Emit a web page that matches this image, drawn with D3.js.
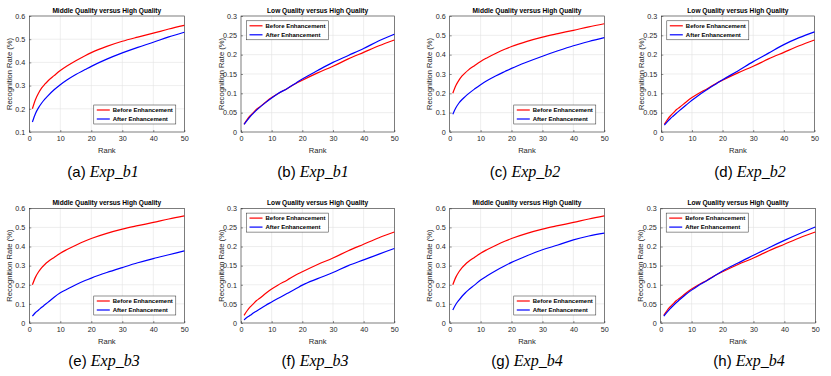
<!DOCTYPE html>
<html>
<head>
<meta charset="utf-8">
<script src="https://cdn.jsdelivr.net/npm/d3@7"></script>
<style>
  body { margin: 0; background: #fff; }
  svg { display: block; }
  .tick-label { font-family: "Liberation Sans", Arial, sans-serif; font-size: 7.2px; fill: #262626; }
  .ttl { font-family: "Liberation Sans", Arial, sans-serif; font-size: 6.6px; font-weight: bold; fill: #000; }
  .axlbl { font-family: "Liberation Sans", Arial, sans-serif; font-size: 7.6px; fill: #262626; }
  .leg { font-family: "Liberation Sans", Arial, sans-serif; font-size: 6px; font-weight: bold; fill: #000; }
  .cap { font-family: "Liberation Sans", Arial, sans-serif; font-size: 15px; fill: #000; }
  .cap-it { font-family: "Liberation Serif", "DejaVu Serif", serif; font-style: italic; font-size: 16px; }
</style>
</head>
<body>
<svg id="chart" width="831" height="376"></svg>
<script>
// ranks
const ranks = [1, 2, 3, 4, 5, 6, 8, 10, 12, 15, 18, 20, 25, 30, 35, 40, 45, 50];

// Middle Quality versus High Quality, before enhancement (same in a, c, e, g)
const midBefore = [0.200, 0.240, 0.268, 0.290, 0.306, 0.320, 0.343, 0.365, 0.383, 0.407, 0.429, 0.442, 0.469, 0.491, 0.509, 0.526, 0.544, 0.560];
// Low Quality versus High Quality, before enhancement (same in b, d, f, h)
const lowBefore = [0.020, 0.032, 0.042, 0.050, 0.058, 0.064, 0.077, 0.089, 0.099, 0.112, 0.126, 0.134, 0.153, 0.170, 0.189, 0.206, 0.223, 0.238];

// after enhancement
const midAfterB1 = [0.143, 0.180, 0.205, 0.225, 0.242, 0.256, 0.282, 0.304, 0.323, 0.348, 0.369, 0.383, 0.414, 0.441, 0.465, 0.487, 0.510, 0.530];
const lowAfterB1 = [0.020, 0.030, 0.040, 0.048, 0.056, 0.063, 0.076, 0.088, 0.099, 0.112, 0.127, 0.137, 0.159, 0.180, 0.198, 0.216, 0.236, 0.253];
const midAfterB2 = [0.092, 0.125, 0.150, 0.168, 0.183, 0.197, 0.222, 0.245, 0.265, 0.291, 0.314, 0.329, 0.362, 0.392, 0.420, 0.446, 0.468, 0.488];
const lowAfterB2 = [0.018, 0.027, 0.035, 0.042, 0.049, 0.056, 0.069, 0.082, 0.094, 0.110, 0.125, 0.135, 0.158, 0.182, 0.204, 0.226, 0.244, 0.259];
const midAfterB3 = [0.036, 0.055, 0.068, 0.082, 0.095, 0.108, 0.135, 0.158, 0.175, 0.200, 0.222, 0.235, 0.264, 0.290, 0.315, 0.337, 0.357, 0.377];
const lowAfterB3 = [0.008, 0.015, 0.020, 0.026, 0.031, 0.036, 0.046, 0.055, 0.064, 0.077, 0.090, 0.099, 0.116, 0.132, 0.150, 0.165, 0.180, 0.195];
const midAfterB4 = [0.068, 0.098, 0.120, 0.140, 0.157, 0.172, 0.198, 0.225, 0.246, 0.275, 0.301, 0.317, 0.352, 0.383, 0.408, 0.435, 0.455, 0.470];
const lowAfterB4 = [0.018, 0.028, 0.037, 0.045, 0.053, 0.060, 0.074, 0.086, 0.097, 0.111, 0.126, 0.136, 0.157, 0.177, 0.197, 0.216, 0.234, 0.251];

// tick labels
const rankTicks = [0, 10, 20, 30, 40, 50];
const midTicksA = [0.1, 0.2, 0.3, 0.4, 0.5, 0.6];
const midTicks = [0, 0.1, 0.2, 0.3, 0.4, 0.5, 0.6];
const lowTicks = [0, 0.05, 0.1, 0.15, 0.2, 0.25, 0.3];

const seriesNames = ["Before Enhancement", "After Enhancement"];
const midTitle = "Middle Quality versus High Quality";
const lowTitle = "Low Quality versus High Quality";

// panel layout
const row1 = { top: 16, bottom: 132 };
const row2 = { top: 208.3, bottom: 323 };
const panels = [
  { tag: "(a)", exp: "Exp_b1", left: 29.3, right: 184.3, row: row1, capX: 103, title: midTitle, yTicks: midTicksA, before: midBefore, after: midAfterB1, legend: "br" },
  { tag: "(b)", exp: "Exp_b1", left: 241, right: 394.3, row: row1, capX: 313, title: lowTitle, yTicks: lowTicks, before: lowBefore, after: lowAfterB1, legend: "tl" },
  { tag: "(c)", exp: "Exp_b2", left: 449.7, right: 604.3, row: row1, capX: 525, title: midTitle, yTicks: midTicks, before: midBefore, after: midAfterB2, legend: "br" },
  { tag: "(d)", exp: "Exp_b2", left: 661.3, right: 814.5, row: row1, capX: 750, title: lowTitle, yTicks: lowTicks, before: lowBefore, after: lowAfterB2, legend: "tl" },
  { tag: "(e)", exp: "Exp_b3", left: 29.3, right: 184.3, row: row2, capX: 104, title: midTitle, yTicks: midTicks, before: midBefore, after: midAfterB3, legend: "br" },
  { tag: "(f)", exp: "Exp_b3", left: 241, right: 394.3, row: row2, capX: 315, title: lowTitle, yTicks: lowTicks, before: lowBefore, after: lowAfterB3, legend: "tl" },
  { tag: "(g)", exp: "Exp_b4", left: 449.7, right: 604.3, row: row2, capX: 527, title: midTitle, yTicks: midTicks, before: midBefore, after: midAfterB4, legend: "br" },
  { tag: "(h)", exp: "Exp_b4", left: 660.7, right: 815.3, row: row2, capX: 749, title: lowTitle, yTicks: lowTicks, before: lowBefore, after: lowAfterB4, legend: "tl" }
];

const colors = ["#ff0000", "#0000ff"];
const svg = d3.select("#chart");
const fmt = (d) => String(+d.toFixed(2));

panels.forEach((p) => drawPanel(p));

function drawPanel(p) {
  const top = p.row.top, bottom = p.row.bottom;
  const x = d3.scaleLinear().domain([0, 50]).range([p.left, p.right]);
  const y = d3.scaleLinear().domain(d3.extent(p.yTicks)).range([bottom, top]);
  const g = svg.append("g");

  // grid
  g.append("g").selectAll("line").data(rankTicks.slice(1, -1)).join("line")
    .attr("x1", (d) => x(d)).attr("x2", (d) => x(d)).attr("y1", top).attr("y2", bottom)
    .attr("stroke", "#e3e3e3").attr("stroke-width", 0.6);
  g.append("g").selectAll("line").data(p.yTicks.slice(1, -1)).join("line")
    .attr("x1", p.left).attr("x2", p.right).attr("y1", (d) => y(d)).attr("y2", (d) => y(d))
    .attr("stroke", "#e3e3e3").attr("stroke-width", 0.6);

  // axes (ticks pointing inward)
  const xa = g.append("g").attr("transform", `translate(0,${bottom})`)
    .call(d3.axisBottom(x).tickValues(rankTicks).tickSize(-2).tickPadding(4).tickFormat(d3.format("d")));
  const ya = g.append("g").attr("transform", `translate(${p.left},0)`)
    .call(d3.axisLeft(y).tickValues(p.yTicks).tickSize(-2).tickPadding(4).tickFormat(fmt));
  [xa, ya].forEach((a) => {
    a.select(".domain").remove();
    a.selectAll("line").attr("stroke", "#262626").attr("stroke-width", 0.5);
    a.selectAll("text").attr("class", "tick-label").attr("fill", null);
  });

  // box
  g.append("rect").attr("x", p.left).attr("y", top).attr("width", p.right - p.left).attr("height", bottom - top)
    .attr("fill", "none").attr("stroke", "#262626").attr("stroke-width", 0.6);

  // lines
  const line = d3.line().x((d, i) => x(ranks[i])).y((d) => y(d)).curve(d3.curveMonotoneX);
  [p.before, p.after].forEach((vals, i) => {
    g.append("path").datum(vals).attr("d", line).attr("fill", "none")
      .attr("stroke", colors[i]).attr("stroke-width", 1.2);
  });

  // title and labels
  g.append("text").attr("class", "ttl").attr("x", (p.left + p.right) / 2).attr("y", top - 3.2)
    .attr("text-anchor", "middle").text(p.title);
  g.append("text").attr("class", "axlbl").attr("x", (p.left + p.right) / 2).attr("y", bottom + 21)
    .attr("text-anchor", "middle").text("Rank");
  g.append("text").attr("class", "axlbl")
    .attr("transform", `translate(${p.left - 17.5},${(top + bottom) / 2}) rotate(-90)`)
    .attr("text-anchor", "middle").text("Recognition Rate (%)");

  // legend
  const lg = g.append("g");
  const box = lg.append("rect").attr("fill", "#fff").attr("stroke", "#262626").attr("stroke-width", 0.5);
  let tw = 0;
  seriesNames.forEach((name, i) => {
    lg.append("line").attr("x1", 3).attr("x2", 16).attr("y1", 5 + i * 9).attr("y2", 5 + i * 9)
      .attr("stroke", colors[i]).attr("stroke-width", 1.2);
    const t = lg.append("text").attr("class", "leg").attr("x", 19).attr("y", 7.2 + i * 9).text(name);
    tw = Math.max(tw, t.node().getComputedTextLength());
  });
  const lw = 19 + tw + 3, lh = 19;
  box.attr("width", lw).attr("height", lh);
  if (p.legend === "br") lg.attr("transform", `translate(${p.right - 8.5 - lw},${bottom - 8 - lh})`);
  else lg.attr("transform", `translate(${p.left + 5.5},${top + 4.8})`);

  // caption
  const cap = g.append("text").attr("class", "cap").attr("x", p.capX).attr("y", p.row === row1 ? 177 : 366)
    .attr("text-anchor", "middle");
  cap.append("tspan").text(p.tag + " ");
  cap.append("tspan").attr("class", "cap-it").text(p.exp);
}
</script>
</body>
</html>
